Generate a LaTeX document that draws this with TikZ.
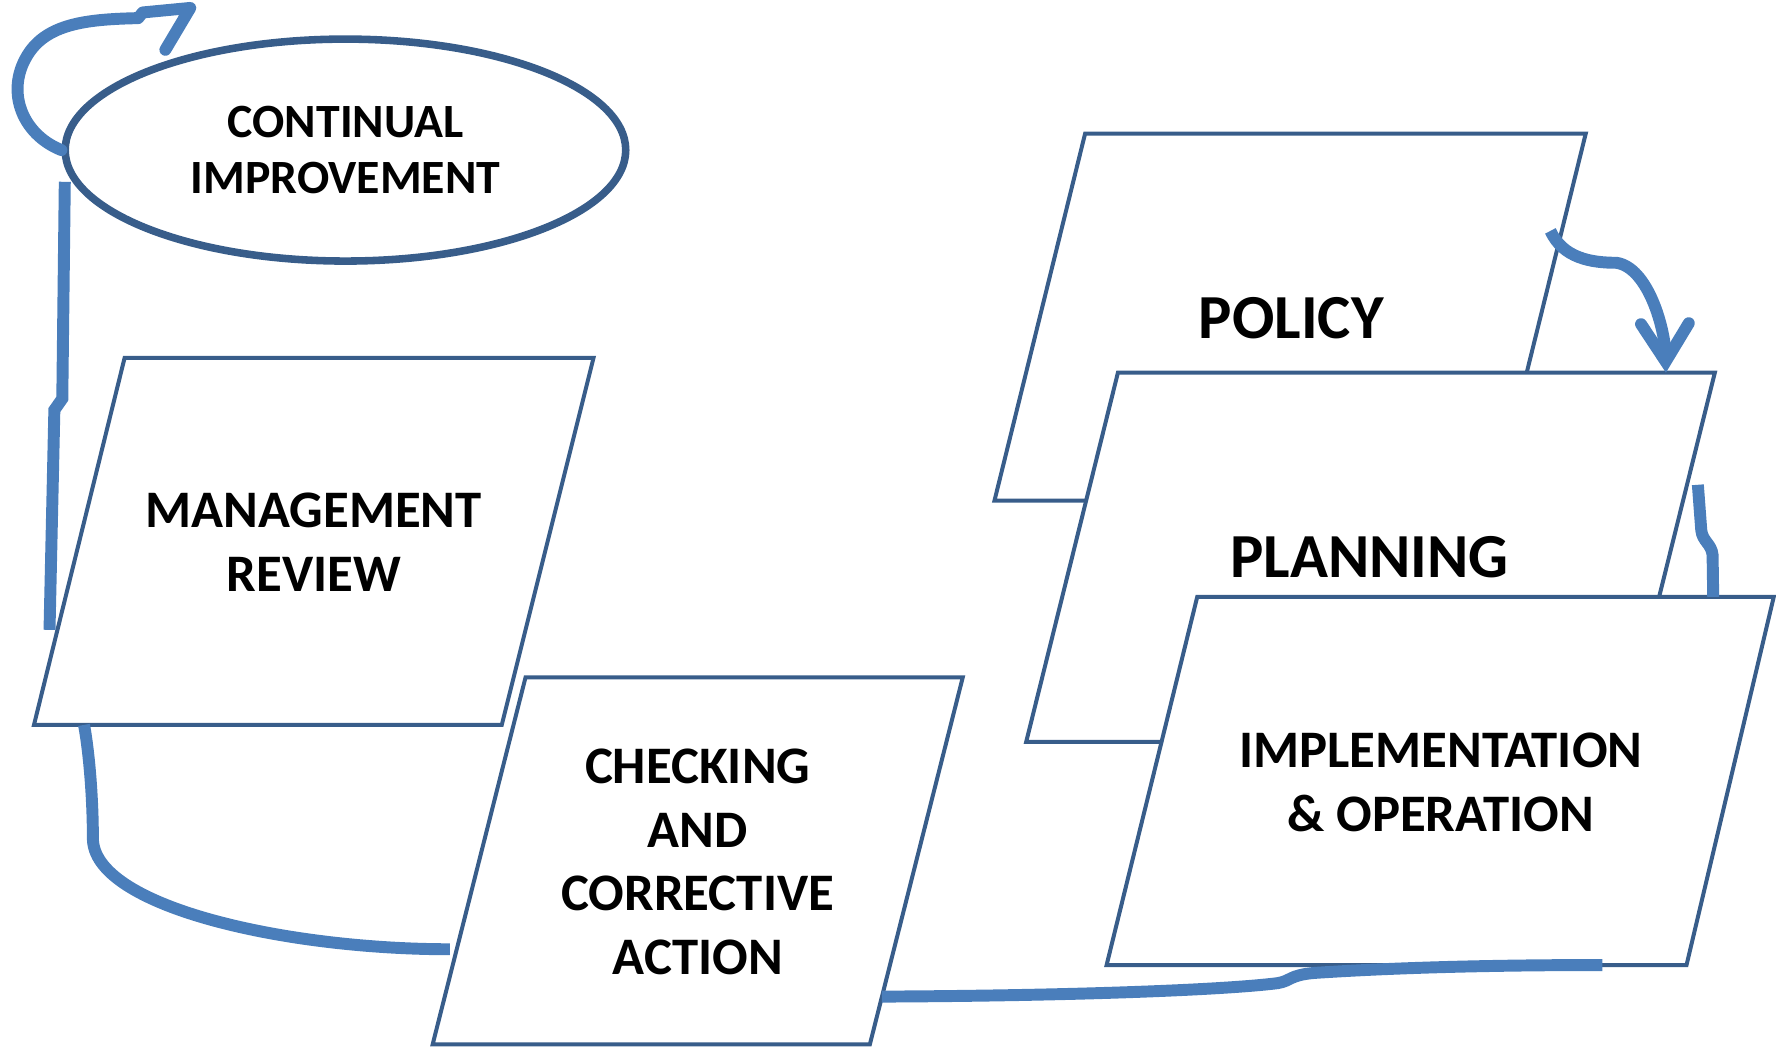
\documentclass[tikz,border=0pt]{standalone}
\usepackage{fontspec}
\setmainfont{Carlito}
\usetikzlibrary{shapes.geometric,arrows.meta,calc}
\definecolor{boxblue}{HTML}{385D8A}
\definecolor{flowblue}{HTML}{4A7EBB}
\tikzset{
  boxline/.style={draw=boxblue, line width=2pt, fill=white},
  boxtext/.style={font=\fontsize{26.5}{32}\selectfont\bfseries, align=center},
  flow/.style={draw=flowblue, line width=6pt},
}
\begin{document}
\begin{tikzpicture}[x=0.02cm, y=-0.02cm]
    \useasboundingbox (0,0) rectangle (1568,926);

    \node[ellipse, draw=boxblue, line width=3.8pt, minimum width=9.9cm, minimum height=3.92cm,
          font=\fontsize{24}{28.3}\selectfont\bfseries, align=center] (ci) at (305,132.5) {CONTINUAL\\IMPROVEMENT};

    \draw[boxline] (30,640) coordinate (mr-sw) -- (443,640) coordinate (mr-se)
        -- (524,316) coordinate (mr-ne) -- (110,316) coordinate (mr-nw) -- cycle;
    \draw[boxline] (382,922) coordinate (ck-sw) -- (768,922) coordinate (ck-se)
        -- (850,598) coordinate (ck-ne) -- (464,598) coordinate (ck-nw) -- cycle;
    \draw[boxline] (878,442) coordinate (po-sw) -- (1320,442) coordinate (po-se)
        -- (1400,118) coordinate (po-ne) -- (958,118) coordinate (po-nw) -- cycle;
    \draw[boxline] (906,655) coordinate (pl-sw) -- (1433,655) coordinate (pl-se)
        -- (1514,329) coordinate (pl-ne) -- (987,329) coordinate (pl-nw) -- cycle;
    \draw[boxline] (977,852) coordinate (im-sw) -- (1489,852) coordinate (im-se)
        -- (1566,527) coordinate (im-ne) -- (1057,527) coordinate (im-nw) -- cycle;

    \node[boxtext] (mr) at (277,479) {MANAGEMENT\\REVIEW};
    \node[boxtext] (ck) at (616,761) {CHECKING\\AND\\CORRECTIVE\\ACTION};
    \node[boxtext, font=\fontsize{31.5}{36}\selectfont\bfseries] (po) at (1140,281) {POLICY};
    \node[boxtext, font=\fontsize{31.5}{36}\selectfont\bfseries] (pl) at (1209,492) {PLANNING};
    \node[boxtext] (im) at (1272,691) {IMPLEMENTATION\\\& OPERATION};

    \coordinate (loop-end) at (146,44);
    \coordinate (mr-top) at ($(ci.west)+(3,28)$);

    \begin{scope}[every path/.style={flow}]
       \draw[line join=round, line cap=round] (ci.west) .. controls (18,118) and (4,78) .. (26,46)
           .. controls (44,20) and (80,17) .. (122,16) -- (126,11) -- (168,7) -- (loop-end);
       \draw ($(mr-sw)!0.259!(mr-nw)+(-7,0)$) -- (48,362) -- (55,352) -- (mr-top);
       \draw ($(mr-sw)!0.107!(mr-se)$) .. controls (78,660) and (82,700) .. (82,740)
           .. controls (82,800) and (250,838) .. ($(ck-sw)!0.259!(ck-nw)+(-6,0)$);
       \draw ($(ck-se)!0.13!(ck-ne)$) .. controls (950,879) and (1080,874) .. (1128,868)
           .. controls (1140,866) and (1138,861) .. (1160,859)
           .. controls (1250,853) and (1350,852) .. ($(im-sw)!0.855!(im-se)$);
       \draw ($(im-nw)!0.895!(im-ne)$) -- (1512,490) .. controls (1511,480) and (1503,478) .. (1502,468) -- (1499,428);
       \draw[-{Straight Barb[length=19pt, width=24pt, line cap=round]}]
           ($(po-se)!0.735!(po-ne)+(-10,0)$) .. controls (1380,228) and (1405,232) .. (1427,232)
           .. controls (1455,236) and (1470,290) .. ($(pl-nw)!0.918!(pl-ne)$);
    \end{scope}
\end{tikzpicture}
\end{document}
